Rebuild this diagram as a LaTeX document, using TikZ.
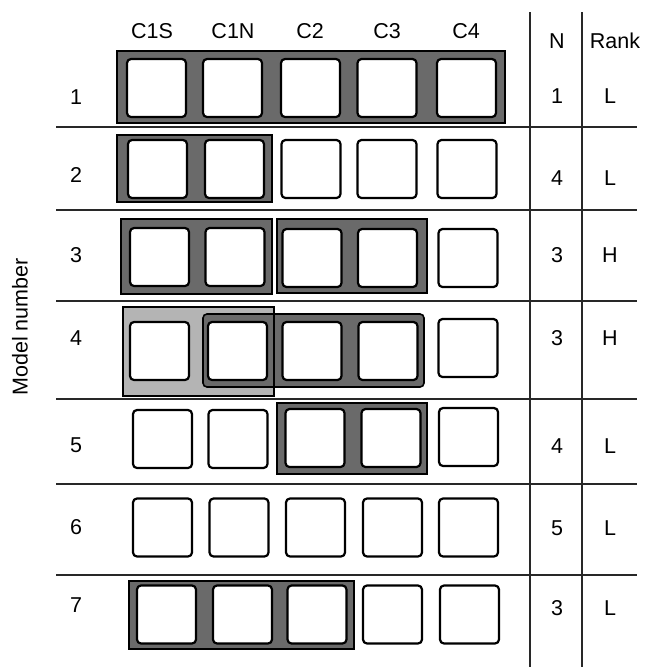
\documentclass[tikz,border=0pt]{standalone}
\usepackage{fontspec}
\setmainfont{Liberation Sans}
\definecolor{bardark}{RGB}{106,106,106}
\definecolor{barlight}{RGB}{180,180,180}
\definecolor{rulec}{RGB}{40,40,40}
\tikzset{
  cell/.style={draw=black, fill=white, line width=2.2pt, rounded corners=4pt,
    rectangle, minimum width=59pt, minimum height=58pt, inner sep=0pt},
  bar/.style={draw=black, fill=bardark, line width=1.6pt},
  lbar/.style={fill=barlight},
  lbarline/.style={draw=black, line width=1.6pt},
  rulel/.style={draw=rulec, line width=1.4pt},
  txt/.style={inner sep=0pt, font=\fontsize{21.5}{25}\selectfont}
}
\begin{document}
\begin{tikzpicture}[x=1pt,y=-1pt]
\useasboundingbox (0,0) rectangle (645,667);
% rules
\coordinate (h0l) at (56,127); \coordinate (h0r) at (637,127);
\draw[rulel] (56,127) -- (637,127);
\draw[rulel] (56,210) -- (637,210);
\draw[rulel] (56,301) -- (637,301);
\draw[rulel] (56,399) -- (637,399);
\draw[rulel] (56,484) -- (637,484);
\draw[rulel] (56,575) -- (637,575);
\draw[rulel] (530,12) -- (530,667);
\draw[rulel] (582,12) -- (582,667);
% headers
\node[txt] (hC1S) at (152,31) {C1S};
\node[txt] (hC1N) at (233,31) {C1N};
\node[txt] (hC2) at (310,31) {C2};
\node[txt] (hC3) at (387,31) {C3};
\node[txt] (hC4) at (466,31) {C4};
\node[txt] (hN) at (557,41) {N};
\node[txt] (hRank) at (615,41) {Rank};
\node[txt, rotate=90] (ylab) at (20,327) {Model number};
% row labels
\node[txt] (m1) at (76,97) {1};
\node[txt] (m2) at (76,175) {2};
\node[txt] (m3) at (76,255) {3};
\node[txt] (m4) at (76,338) {4};
\node[txt] (m5) at (76,445) {5};
\node[txt] (m6) at (76,527) {6};
\node[txt] (m7) at (76,605) {7};
% N
\node[txt] (n1) at (557,96) {1};
\node[txt] (n2) at (557,178) {4};
\node[txt] (n3) at (557,255) {3};
\node[txt] (n4) at (557,338) {3};
\node[txt] (n5) at (557,446) {4};
\node[txt] (n6) at (557,528) {5};
\node[txt] (n7) at (557,608) {3};
% Rank
\node[txt] (k1) at (610,96) {L};
\node[txt] (k2) at (610,178) {L};
\node[txt] (k3) at (610,255) {H};
\node[txt] (k4) at (610,338) {H};
\node[txt] (k5) at (610,446) {L};
\node[txt] (k6) at (610,528) {L};
\node[txt] (k7) at (610,608) {L};
% row 1
\draw[bar] (117,51) rectangle (505,123);
\node[cell] (a1) at (156.5,88) {};
\node[cell] (a2) at (232.5,88) {};
\node[cell] (a3) at (310.5,88) {};
\node[cell] (a4) at (387,88) {};
\node[cell] (a5) at (466.5,88) {};
% row 2
\draw[bar] (117,135) rectangle (272,202);
\node[cell] (b1) at (157.5,169) {};
\node[cell] (b2) at (234.5,169) {};
\node[cell] (b3) at (311,169) {};
\node[cell] (b4) at (387,169) {};
\node[cell] (b5) at (467,169) {};
% row 3
\draw[bar] (121,219) rectangle (272,294);
\draw[bar] (277,219) rectangle (427,293);
\node[cell] (c1) at (159.5,257) {};
\node[cell] (c2) at (235,257) {};
\node[cell] (c3) at (312,258) {};
\node[cell] (c4) at (387.5,258) {};
\node[cell] (c5) at (468,258) {};
% row 4
\fill[lbar] (123,307) rectangle (274,396);
\draw[bar, rounded corners=4pt] (203,314) rectangle (424,387);
\draw[lbarline] (123,307) rectangle (274,396);
\node[cell] (d1) at (159.5,351) {};
\node[cell] (d2) at (237.5,351) {};
\node[cell] (d3) at (312,351) {};
\node[cell] (d4) at (388,351) {};
\node[cell] (d5) at (468,348) {};
% row 5
\draw[bar] (277,403) rectangle (427,474);
\node[cell] (e1) at (162.5,439) {};
\node[cell] (e2) at (238,439) {};
\node[cell] (e3) at (315,438) {};
\node[cell] (e4) at (391,438) {};
\node[cell] (e5) at (468.5,437) {};
% row 6
\node[cell] (f1) at (162.5,527.5) {};
\node[cell] (f2) at (239,527.5) {};
\node[cell] (f3) at (315.5,527.5) {};
\node[cell] (f4) at (392.5,527.5) {};
\node[cell] (f5) at (468.5,527.5) {};
% row 7
\draw[bar] (129,581) rectangle (354,649);
\node[cell] (g1) at (166.5,614.5) {};
\node[cell] (g2) at (242.5,614.5) {};
\node[cell] (g3) at (317,614.5) {};
\node[cell] (g4) at (392.5,614.5) {};
\node[cell] (g5) at (469.5,614.5) {};
\end{tikzpicture}
\end{document}
